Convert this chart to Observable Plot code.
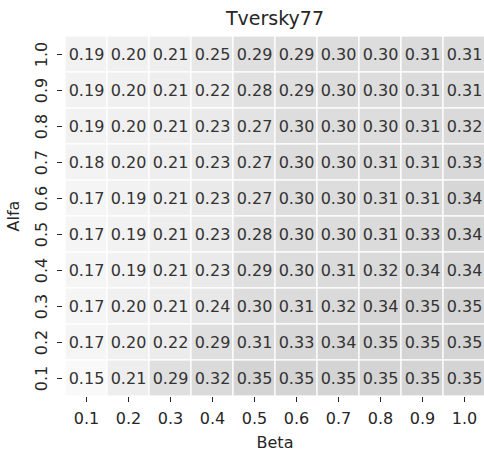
<!DOCTYPE html>
<html>
<head>
<meta charset="utf-8">
<script src="https://cdn.jsdelivr.net/npm/d3@7"></script>
<script src="https://cdn.jsdelivr.net/npm/@observablehq/plot@0.6"></script>
<style>
  html, body { margin: 0; padding: 0; background: white; overflow: hidden; }
</style>
</head>
<body>
<div id="chart"></div>
<script>
const title = "Tversky77";
const betaLabels = ["0.1","0.2","0.3","0.4","0.5","0.6","0.7","0.8","0.9","1.0"];
const alfaLabels = ["1.0","0.9","0.8","0.7","0.6","0.5","0.4","0.3","0.2","0.1"];
const alfa10 = [0.19,0.20,0.21,0.25,0.29,0.29,0.30,0.30,0.31,0.31];
const alfa09 = [0.19,0.20,0.21,0.22,0.28,0.29,0.30,0.30,0.31,0.31];
const alfa08 = [0.19,0.20,0.21,0.23,0.27,0.30,0.30,0.30,0.31,0.32];
const alfa07 = [0.18,0.20,0.21,0.23,0.27,0.30,0.30,0.31,0.31,0.33];
const alfa06 = [0.17,0.19,0.21,0.23,0.27,0.30,0.30,0.31,0.31,0.34];
const alfa05 = [0.17,0.19,0.21,0.23,0.28,0.30,0.30,0.31,0.33,0.34];
const alfa04 = [0.17,0.19,0.21,0.23,0.29,0.30,0.31,0.32,0.34,0.34];
const alfa03 = [0.17,0.20,0.21,0.24,0.30,0.31,0.32,0.34,0.35,0.35];
const alfa02 = [0.17,0.20,0.22,0.29,0.31,0.33,0.34,0.35,0.35,0.35];
const alfa01 = [0.15,0.21,0.29,0.32,0.35,0.35,0.35,0.35,0.35,0.35];
const rows = [alfa10, alfa09, alfa08, alfa07, alfa06, alfa05, alfa04, alfa03, alfa02, alfa01];

const data = [];
rows.forEach((r, i) => r.forEach((v, j) => data.push({alfa: alfaLabels[i], beta: betaLabels[j], value: v})));

const font = "DejaVu Sans";
const chart = Plot.plot({
  width: 484,
  height: 452,
  marginLeft: 62,
  marginRight: -3,
  marginTop: 34,
  marginBottom: 55,
  style: {fontFamily: font, fontSize: "15px", color: "#262626", background: "white"},
  x: {domain: betaLabels, padding: 0},
  y: {domain: alfaLabels, padding: 0},
  color: {type: "linear", domain: [0.15, 0.35], range: ["#f9f9f9", "#d4d4d4"]},
  marks: [
    Plot.cell(data, {x: "beta", y: "alfa", fill: "value", stroke: "white", strokeWidth: 1.2}),
    Plot.text(data, {x: "beta", y: "alfa", text: d => d.value.toFixed(2), fill: "#333333", fontSize: 16}),
    Plot.axisX({tickSize: 5, tickPadding: 10, fontSize: 16, label: "Beta", labelAnchor: "center", labelOffset: 50}),
    Plot.axisY({tickSize: 5, tickPadding: 11, tickRotate: -90, fontSize: 16, label: "Alfa", labelAnchor: "center", labelOffset: 55}),
    Plot.text([title], {frameAnchor: "top", dy: -23, fontSize: 19, fill: "#262626"})
  ]
});
document.getElementById("chart").appendChild(chart);
</script>
</body>
</html>
